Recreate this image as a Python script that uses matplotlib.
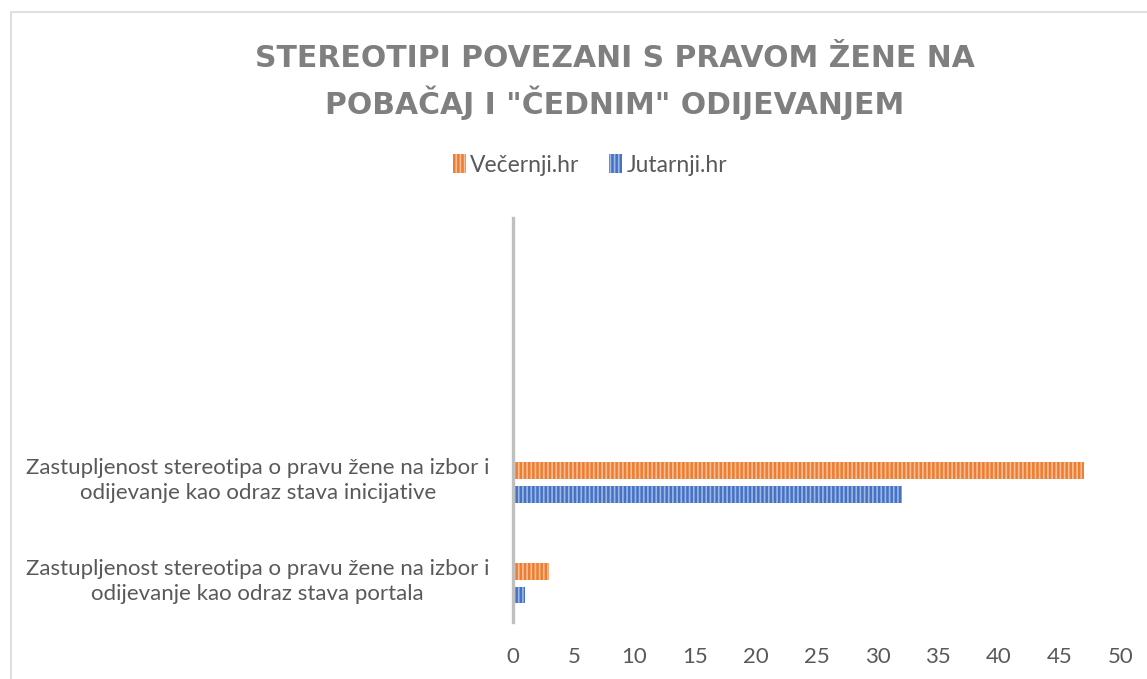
import matplotlib.pyplot as plt
from matplotlib.patches import Rectangle
import matplotlib.transforms as mtrans
import numpy as np

# vrijednosti ocitane s grafa
categories = ['Zastupljenost stereotipa o pravu žene na izbor i\nodijevanje kao odraz stava portala',
              'Zastupljenost stereotipa o pravu žene na izbor i\nodijevanje kao odraz stava inicijative']
vecernji = [3, 47]
jutarnji = [1, 32]
xticks = [0, 5, 10, 15, 20, 25, 30, 35, 40, 45, 50]

W, H = 1147, 679
fig = plt.figure(figsize=(W / 100, H / 100), dpi=100)
ax = fig.add_axes([513 / W, 1 - 622 / H, (1120.5 - 513) / W, (622 - 218) / H])

index = np.arange(len(categories))
bar_h = 0.164
off = 0.118

plt.rcParams['hatch.linewidth'] = 1.2
b1 = ax.barh(index + off, vecernji, bar_h, color='#ed7d31', edgecolor='#f6bf98',
             hatch='||||', linewidth=0, label='Večernji.hr', zorder=3)
b2 = ax.barh(index - off, jutarnji, bar_h, color='#4472c4', edgecolor='#9fb7e2',
             hatch='||||', linewidth=0, label='Jutarnji.hr', zorder=3)

ax.set_xlim(0, 50)
ax.set_ylim(-0.384, 3.624)
ax.set_xticks(xticks)
ax.set_xticklabels([str(v) for v in xticks], fontsize=16, color='#595959', family='Lato')
ax.set_yticks(index)
ax.set_yticklabels(categories, fontsize=16, color='#595959', family='Lato',
                   multialignment='center', linespacing=1.3)
ax.tick_params(axis='both', length=0)
ax.tick_params(axis='x', pad=18)
ax.tick_params(axis='y', pad=17)

# oznake kategorija malo podignute kao u originalu
shift = mtrans.ScaledTranslation(0, 6 / 100, fig.dpi_scale_trans)
for lab in ax.get_yticklabels():
    lab.set_transform(lab.get_transform() + shift)

for s in ['top', 'right', 'bottom']:
    ax.spines[s].set_visible(False)
ax.spines['left'].set_color('#bfbfbf')
ax.spines['left'].set_linewidth(2.4)
ax.spines['left'].set_zorder(4)

fig.text(615 / W, 1 - 82 / H, 'STEREOTIPI POVEZANI S PRAVOM ŽENE NA\nPOBAČAJ I "ČEDNIM" ODIJEVANJEM',
         ha='center', va='center', fontsize=21.5, fontweight='bold', color='#7f7f7f',
         family='DejaVu Sans', linespacing=1.45)

fig.legend(handles=[b1, b2], loc='center', bbox_to_anchor=(590 / W, 1 - 165 / H), ncol=2,
           frameon=False, handlelength=0.55, handleheight=0.9, handletextpad=0.2,
           columnspacing=1.3, prop={'family': 'Lato', 'size': 16.5}, labelcolor='#595959')

# okvir grafikona
fig.patches.append(Rectangle((11 / W, -0.1), 1.2, 1.1 - 12 / H, transform=fig.transFigure,
                             fill=False, edgecolor='#d9d9d9', linewidth=1.2))

fig.savefig('out.png', dpi=100)
